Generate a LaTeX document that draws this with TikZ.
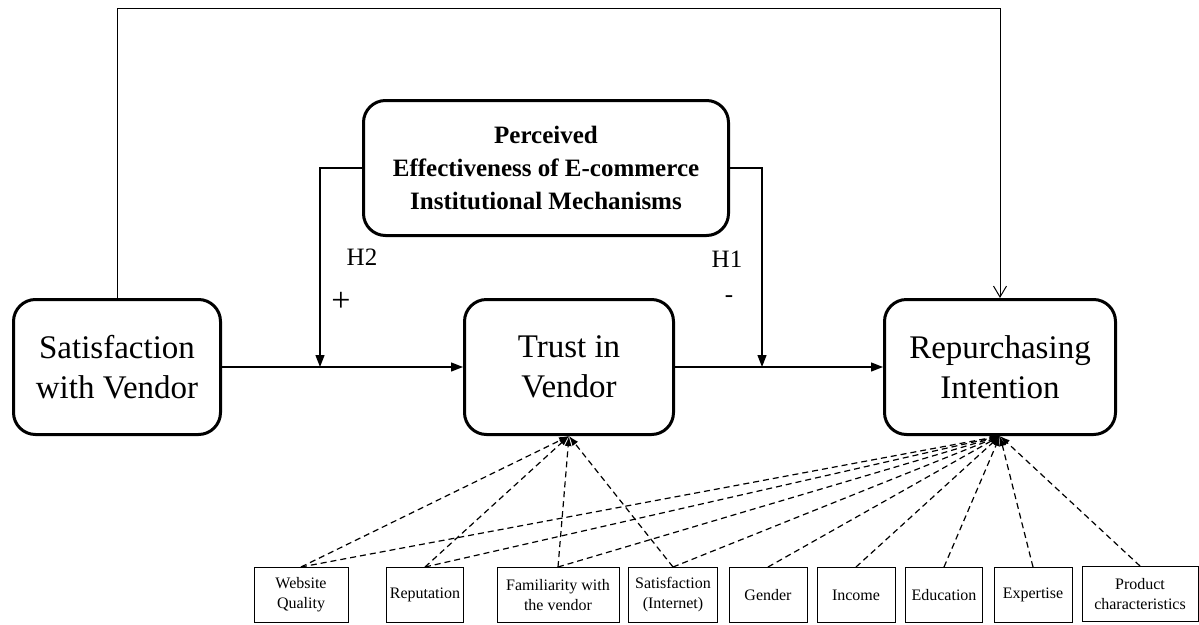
\documentclass[tikz,border=0pt]{standalone}
\usepackage{fontspec}
\setmainfont{Liberation Serif}
\usetikzlibrary{shapes}
\usetikzlibrary{arrows.meta}

\begin{document}
\begin{tikzpicture}[x=1pt,y=-1pt,
  bigbox/.style={draw,line width=3pt,rounded corners=22pt,align=center,inner sep=0pt,minimum height=135pt,font=\fontsize{33}{40}\selectfont},
  smallbox/.style={draw,line width=1pt,align=center,inner sep=1pt,minimum height=55pt,font=\fontsize{16}{20}\selectfont},
  link/.style={line width=1.3pt,-{Triangle[length=12pt,width=9pt]}},
  ctrl/.style={line width=1.2pt,dash pattern=on 6pt off 4pt,-{Latex[length=10pt,width=7pt]}},
  lbl/.style={font=\fontsize{25}{30}\selectfont,inner sep=0pt}]
\useasboundingbox (0,0) rectangle (1199,624);
% main constructs
\node[bigbox,minimum width=207pt] (sat) at (117,367) {Satisfaction\\with Vendor};
\node[bigbox,minimum width=209pt] (trust) at (569,367) {Trust in\\Vendor};
\node[bigbox,minimum width=231pt] (rpi) at (1000,367) {Repurchasing\\Intention};
\node[bigbox,minimum width=365pt,font=\fontsize{25}{33}\selectfont\bfseries] (pe) at (546,168) {Perceived\\Effectiveness of E-commerce\\Institutional Mechanisms};
% controls
\node[smallbox,minimum width=94pt] (wq) at (301,595) {Website\\Quality};
\node[smallbox,minimum width=77pt] (reput) at (425,595) {Reputation};
\node[smallbox,minimum width=122pt] (fam) at (558,595) {Familiarity with\\the vendor};
\node[smallbox,minimum width=89pt] (sint) at (673,595) {Satisfaction\\(Internet)};
\node[smallbox,minimum width=78pt] (gend) at (768,595) {Gender};
\node[smallbox,minimum width=78pt] (inc) at (856,595) {Income};
\node[smallbox,minimum width=77pt] (edu) at (944,595) {Education};
\node[smallbox,minimum width=78pt] (expt) at (1033,595) {Expertise};
\node[smallbox,minimum width=116pt] (prod) at (1140,594) {Product\\characteristics};
% hypothesis labels
\node[lbl] (h2) at (362,257) {H2};
\node[lbl,font=\fontsize{34}{40}\selectfont] (h2s) at (341,302) {+};
\node[lbl] (h1) at (727,259) {H1};
\node[lbl] (h1s) at (729,299) {-};
\coordinate (h2end) at (320,367);
\coordinate (h1end) at (762,367);
\coordinate (topr) at (1000,8);
% paths
\draw[link] (sat) -- (trust);
\draw[link] (trust) -- (rpi);
\draw[link] (pe.west) -| (h2end);
\draw[link] (pe.east) -| (h1end);
\draw[line width=1pt,-{Straight Barb[length=11pt,width=13pt]}] (sat.north) |- (topr) -- (rpi.north);
\foreach \b in {wq,reput,fam,sint}
  \draw[ctrl] (\b.north) -- (trust.south);
\foreach \b in {wq,reput,fam,sint,gend,inc,edu,expt,prod}
  \draw[ctrl] (\b.north) -- (rpi.south);
\end{tikzpicture}
\end{document}
